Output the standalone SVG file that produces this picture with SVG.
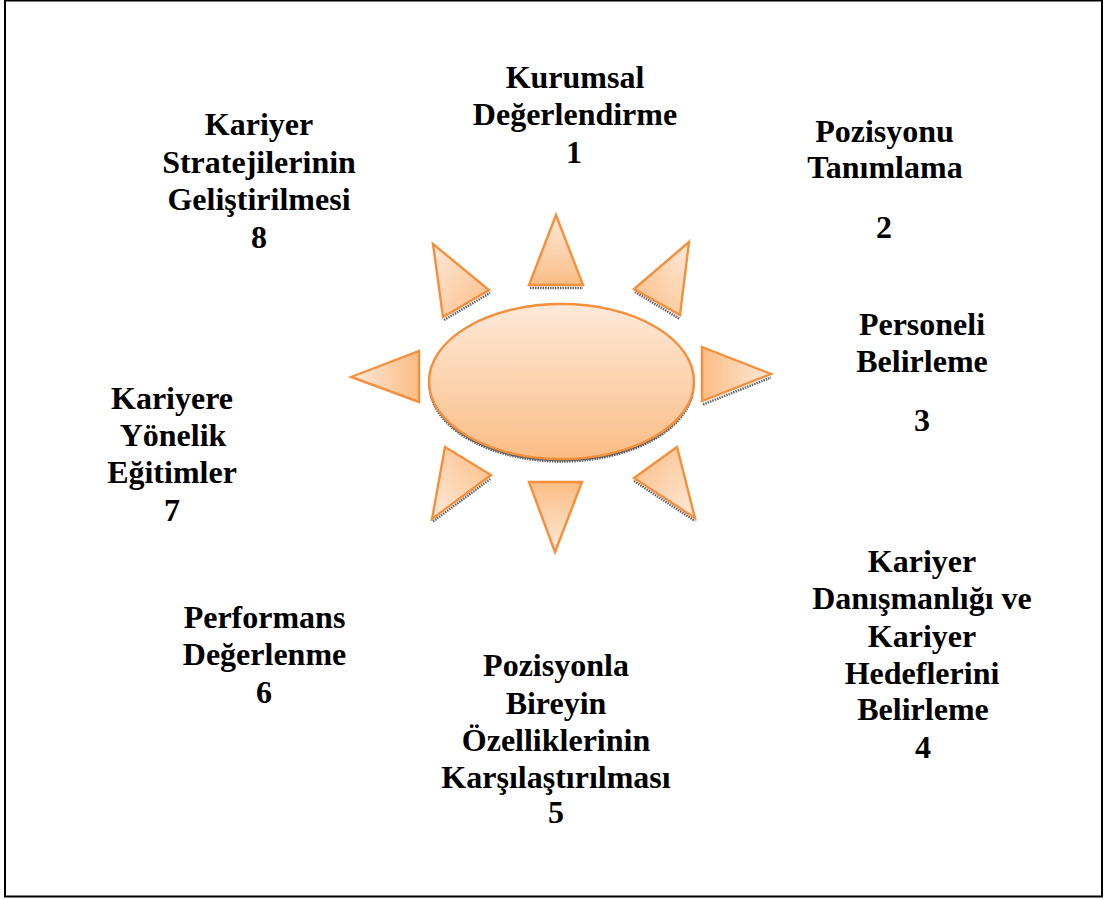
<svg xmlns="http://www.w3.org/2000/svg" width="1106" height="900" viewBox="0 0 1106 900">
<style>
.f{stroke:#f68f3c;stroke-width:2.4;stroke-linejoin:miter}
.s{fill:#666;stroke:#666;stroke-width:2.5;stroke-dasharray:1.5 1}
.l{fill:none}
text{font-family:"Liberation Serif","Times New Roman",serif;font-weight:bold;font-size:32px;fill:#000;text-anchor:middle}
</style>
<defs>
<linearGradient id="gv" x1="0" y1="0" x2="0" y2="1"><stop offset="0" stop-color="#fde9d9"/><stop offset="1" stop-color="#fbbd85"/></linearGradient>
<linearGradient id="gu" x1="0" y1="1" x2="0" y2="0"><stop offset="0" stop-color="#fde9d9"/><stop offset="1" stop-color="#fbbd85"/></linearGradient>
<linearGradient id="gr" x1="1" y1="0" x2="0" y2="0"><stop offset="0" stop-color="#fde9d9"/><stop offset="1" stop-color="#fbbd85"/></linearGradient>
<linearGradient id="gl" x1="0" y1="0" x2="1" y2="0"><stop offset="0" stop-color="#fde9d9"/><stop offset="1" stop-color="#fbbd85"/></linearGradient>
<linearGradient id="gtl" x1="0" y1="0" x2="1" y2="1"><stop offset="0" stop-color="#fde9d9"/><stop offset="1" stop-color="#fbbd85"/></linearGradient>
<linearGradient id="gtr" x1="1" y1="0" x2="0" y2="1"><stop offset="0" stop-color="#fde9d9"/><stop offset="1" stop-color="#fbbd85"/></linearGradient>
<linearGradient id="gbr" x1="1" y1="1" x2="0" y2="0"><stop offset="0" stop-color="#fde9d9"/><stop offset="1" stop-color="#fbbd85"/></linearGradient>
<linearGradient id="gbl" x1="0" y1="1" x2="1" y2="0"><stop offset="0" stop-color="#fde9d9"/><stop offset="1" stop-color="#fbbd85"/></linearGradient>
</defs>
<rect width="1106" height="900" fill="#fff"/>
<rect id="frame" x="5" y="0.5" width="1097" height="896" fill="none" stroke="#000" stroke-width="2"/>
<g id="sun">
<ellipse class="s" cx="561.5" cy="384.5" rx="132" ry="77"/>
<ellipse class="f" cx="561.5" cy="381.5" rx="132.5" ry="77.5" fill="url(#gv)"/>
<path class="s l" d="M530 288H583M444 320L490 293M703 404.500L771 377.500M635 292L680 319M634 481L695 521M433 521.500L491 478.500"/>
<polygon class="f" points="556,215 529,285 583,285" fill="url(#gv)"/>
<polygon class="f" points="433,244 443,317 489,290" fill="url(#gtl)"/>
<polygon class="f" points="351,377 419,351 419,402" fill="url(#gl)"/>
<polygon class="f" points="689,242 634,289 680,315" fill="url(#gtr)"/>
<polygon class="f" points="702,347 771,374 702,401" fill="url(#gr)"/>
<polygon class="f" points="677,447 634,478 695,518" fill="url(#gbr)"/>
<polygon class="f" points="529,482 582,482 555,552" fill="url(#gu)"/>
<polygon class="f" points="445,447 491,475 432,519" fill="url(#gbl)"/>
</g>
<g id="n1"><text x="575" y="88">Kurumsal</text><text x="575" y="125">Değerlendirme</text><text x="574" y="163">1</text></g>
<g id="n2"><text x="884.5" y="142">Pozisyonu</text><text x="885" y="178">Tanımlama</text><text x="884" y="238">2</text></g>
<g id="n3"><text x="922" y="335">Personeli</text><text x="922" y="372">Belirleme</text><text x="922" y="431">3</text></g>
<g id="n4"><text x="922" y="572">Kariyer</text><text x="922" y="609">Danışmanlığı ve</text><text x="922" y="647">Kariyer</text><text x="922" y="684">Hedeflerini</text><text x="923" y="720">Belirleme</text><text x="923" y="758">4</text></g>
<g id="n5"><text x="556" y="676">Pozisyonla</text><text x="556" y="714">Bireyin</text><text x="556" y="751">Özelliklerinin</text><text x="556" y="788">Karşılaştırılması</text><text x="556" y="823">5</text></g>
<g id="n6"><text x="264.500" y="628">Performans</text><text x="264.500" y="665">Değerlenme</text><text x="264" y="703">6</text></g>
<g id="n7"><text x="172" y="409">Kariyere</text><text x="173" y="446">Yönelik</text><text x="172" y="483">Eğitimler</text><text x="172" y="521">7</text></g>
<g id="n8"><text x="259" y="135">Kariyer</text><text x="259" y="173">Stratejilerinin</text><text x="259" y="210">Geliştirilmesi</text><text x="259" y="248">8</text></g>
</svg>
